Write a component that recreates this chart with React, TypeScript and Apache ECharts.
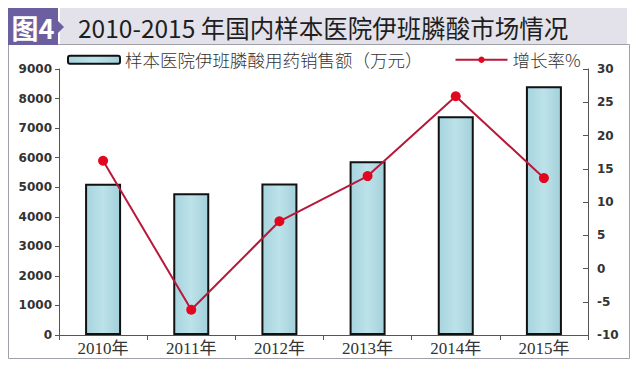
import React, { useEffect, useRef } from "react";
import * as echarts from "echarts";

const categories = ["2010年", "2011年", "2012年", "2013年", "2014年", "2015年"];
const salesValues = [5120, 4800, 5130, 5880, 7400, 8420];
const growthValues = [16.2, -6.2, 7.1, 13.9, 25.9, 13.6];
const salesName = "样本医院伊班膦酸用药销售额（万元）";
const growthName = "增长率%";
const titleText = "2010-2015 年国内样本医院伊班膦酸市场情况";

export default function App() {
  const ref = useRef<HTMLDivElement>(null);
  useEffect(() => {
    document.body.style.margin = "0";
    const chart = echarts.init(ref.current!, null, { renderer: "svg" });
    chart.setOption({
      animation: false,
      backgroundColor: "#ffffff",
      graphic: [
        { type: "rect", shape: { x: 8.5, y: 44.5, width: 621, height: 314 }, style: { fill: "#fff", stroke: "#a0a0a8", lineWidth: 1 }, z: -10 },
        { type: "rect", shape: { x: 60, y: 8, width: 567, height: 36 }, style: { fill: "#e3e2ea" }, z: -5 },
        { type: "rect", shape: { x: 8, y: 8, width: 50, height: 37 }, style: { fill: "#6b5f9f" }, z: -4 },
        { type: "polygon", shape: { points: [[58, 21], [64, 27], [58, 33]] }, style: { fill: "#6b5f9f" }, z: -4 },
        { type: "text", x: 33, y: 27, style: { text: "图4", fill: "#ffffff", font: "bold 27px 'Noto Sans CJK SC', sans-serif", textAlign: "center", textVerticalAlign: "middle" } },
        { type: "text", x: 78, y: 27, style: { text: titleText, fill: "#1e1e1e", font: "24.5px 'Noto Sans CJK SC', sans-serif", textAlign: "left", textVerticalAlign: "middle" } },
      ],
      legend: {
        top: 46,
        left: 62,
        itemGap: 32,
        itemWidth: 52,
        itemHeight: 8,
        textStyle: { fontSize: 17.5, color: "#333", fontFamily: "'Noto Sans CJK SC', sans-serif", fontWeight: 300 },
        data: [salesName, growthName],
      },
      grid: { left: 59, right: 52, top: 69, bottom: 35 },
      xAxis: {
        type: "category",
        data: categories,
        axisLine: { lineStyle: { color: "#555", width: 1 } },
        axisTick: { show: true, length: 5, lineStyle: { color: "#555" } },
        axisLabel: { fontFamily: "'Liberation Serif', 'Noto Sans CJK SC', serif", fontSize: 17, color: "#333", margin: 5 },
      },
      yAxis: [
        {
          type: "value",
          min: 0,
          max: 9000,
          interval: 1000,
          splitLine: { show: false },
          axisLine: { show: true, lineStyle: { color: "#555" } },
          axisTick: { show: true, length: 4, lineStyle: { color: "#555" } },
          axisLabel: { formatter: (v: number) => String(v), fontFamily: "'DejaVu Sans', sans-serif", fontSize: 12, fontWeight: "bold", color: "#333", margin: 7 },
        },
        {
          type: "value",
          min: -10,
          max: 30,
          interval: 5,
          position: "right",
          splitLine: { show: false },
          axisLine: { show: true, lineStyle: { color: "#555" } },
          axisTick: { show: true, inside: true, length: 5, lineStyle: { color: "#555" } },
          axisLabel: { formatter: (v: number) => String(v), fontFamily: "'DejaVu Sans', sans-serif", fontSize: 12, fontWeight: "bold", color: "#333", margin: 9 },
        },
      ],
      series: [
        {
          name: salesName,
          type: "bar",
          data: salesValues,
          barWidth: 36,
          itemStyle: {
            color: {
              type: "linear", x: 0, y: 0, x2: 1, y2: 0,
              colorStops: [
                { offset: 0, color: "#a6d4de" },
                { offset: 0.5, color: "#bde2e9" },
                { offset: 1, color: "#a3d0da" },
              ],
            },
            borderColor: "#111",
            borderWidth: 2,
          },
        },
        {
          name: growthName,
          type: "line",
          yAxisIndex: 1,
          data: growthValues,
          symbol: "circle",
          symbolSize: 10,
          lineStyle: { color: "#b8183a", width: 2 },
          itemStyle: { color: "#e2061f" },
        },
      ],
    });
    return () => chart.dispose();
  }, []);
  return <div ref={ref} style={{ width: 640, height: 370 }} />;
}
